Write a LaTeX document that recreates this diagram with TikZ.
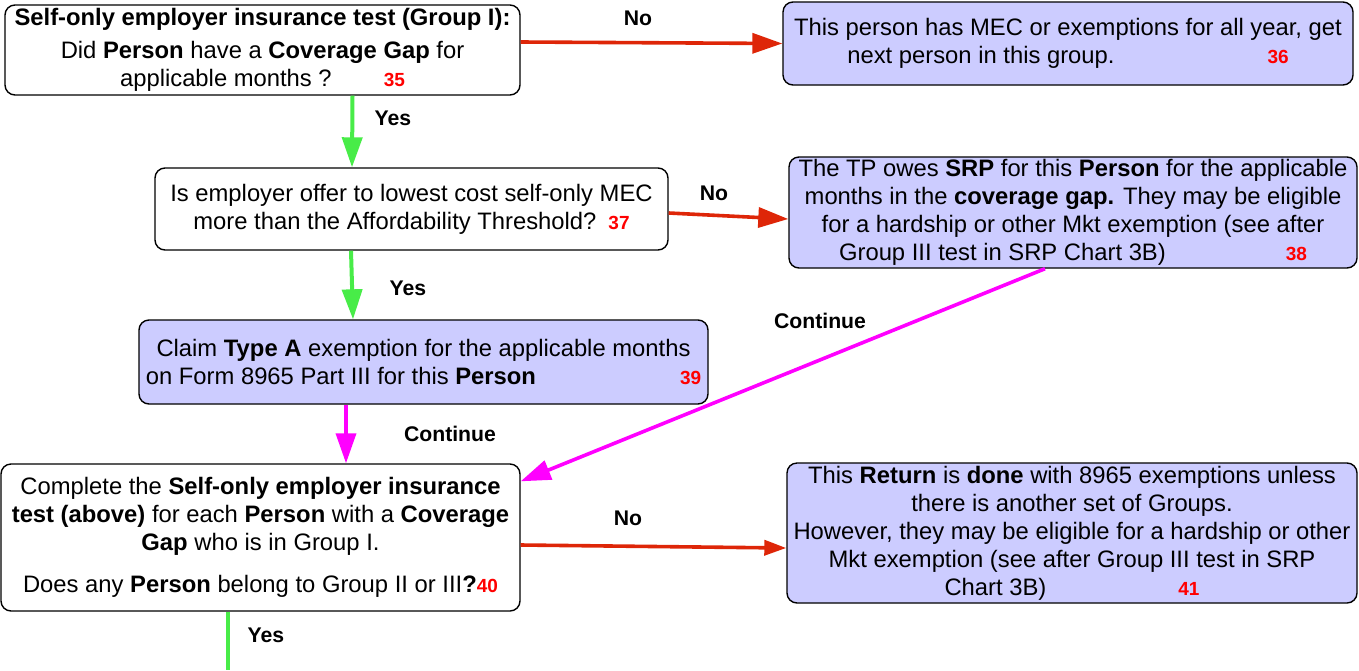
\documentclass[tikz,border=0pt]{standalone}
\usepackage{fontspec}
\setmainfont{Liberation Sans}
\usepackage{tikz}
\usetikzlibrary{arrows.meta}
\definecolor{actfill}{RGB}{204,204,255}
\definecolor{nored}{RGB}{222,38,8}
\definecolor{yesgreen}{RGB}{72,236,72}
\definecolor{contmag}{RGB}{255,0,255}
\definecolor{numred}{RGB}{255,0,0}
\newcommand{\refno}[1]{{\color{numred}\fontsize{9.5}{11}\selectfont\bfseries #1}}
\newcommand{\bodyfont}{\fontsize{11.9}{14}\selectfont}

\begin{document}
\begin{tikzpicture}[x=0.5pt,y=-0.5pt,
  qbox/.style={draw=black,line width=0.7pt,rounded corners=5pt,fill=white,
               align=center,inner sep=0pt,font=\bodyfont},
  abox/.style={qbox,fill=actfill},
  nolink/.style={draw=nored,line width=1.8pt,-{Triangle[length=15pt,width=10pt]}},
  yeslink/.style={draw=yesgreen,line width=2pt,-{Triangle[length=15pt,width=10pt]}},
  contlink/.style={draw=contmag,line width=1.8pt,-{Triangle[length=15pt,width=10pt]}},
  lbl/.style={font=\fontsize{10.6}{12}\selectfont\bfseries,inner sep=0pt}]
  \useasboundingbox (0,0) rectangle (1359,670);

  % ── Boxes ──
  \node[qbox,minimum width=257.5pt,minimum height=45pt] (gap) at (262.5,50)
    {\textbf{Self-only employer insurance test (Group I):}\\[2.5pt]
     Did \textbf{Person} have a \textbf{Coverage Gap} for\\
     applicable months ?\hspace{26pt}\refno{35}};
  \node[abox,minimum width=285pt,minimum height=41.5pt] (allyear) at (1068,43.5)
    {This person has MEC or exemptions for all year, get\\
     next person in this group.\hspace{76.5pt}\refno{36}};
  \node[qbox,minimum width=256.5pt,minimum height=41pt] (afford) at (411.5,209)
    {Is employer offer to lowest cost self-only MEC\\
     more than the Affordability Threshold?\hspace{6pt}\refno{37}};
  \node[abox,minimum width=284pt,minimum height=55.5pt] (owesrp) at (1073,212.5)
    {The TP owes \textbf{SRP} for this \textbf{Person} for the applicable\\
     months in the \textbf{coverage gap.} They may be eligible\\
     for a hardship or other Mkt exemption (see after\\
     Group III test in SRP Chart 3B)\hspace{60pt}\refno{38}};
  \node[abox,minimum width=284.5pt,minimum height=42pt] (typea) at (423.5,362)
    {Claim \textbf{Type A} exemption for the applicable months\\
     on Form 8965 Part III for this \textbf{Person}\hspace{72pt}\refno{39}};
  \node[qbox,minimum width=259.5pt,minimum height=73.5pt] (groupone) at (260.5,537.5)
    {Complete the \textbf{Self-only employer insurance}\\
     \textbf{test (above)} for each \textbf{Person} with a \textbf{Coverage}\\
     \textbf{Gap} who is in Group I.\\[7pt]
     Does any \textbf{Person} belong to Group II or III\textbf{?}\refno{40}};
  \node[abox,minimum width=285pt,minimum height=70pt] (done) at (1072,533)
    {This \textbf{Return} is \textbf{done} with 8965 exemptions unless\\
     there is another set of Groups.\\
     However, they may be eligible for a hardship or other\\
     Mkt exemption (see after Group III test in SRP\\
     Chart 3B)\hspace{66pt}\refno{41}};
  \coordinate (nextgroup) at (228,670);

  % ── Connectors ──
  \draw[nolink] ([yshift=4pt]gap.east) -- (allyear.west);
  \draw[yeslink] ([xshift=45pt]gap.south) -- ([xshift=-29.75pt]afford.north);
  \draw[nolink] ([yshift=-2pt]afford.east) -- ([yshift=-3.25pt]owesrp.west);
  \draw[yeslink] ([xshift=-30.25pt]afford.south) -- ([xshift=-35.25pt]typea.north);
  \draw[contlink] ([xshift=-38.75pt]typea.south) -- ([xshift=42.75pt]groupone.north);
  \draw[contlink] ([xshift=-14pt]owesrp.south) -- ([yshift=-9pt]groupone.north east);
  \draw[nolink,-{Triangle[length=11pt,width=7.5pt]}] ([yshift=-3.75pt]groupone.east) -- ([yshift=-7.5pt]done.west);
  \draw[draw=yesgreen,line width=2pt] ([xshift=-16.25pt]groupone.south) -- (nextgroup);

  % ── Labels ──
  \node[lbl] (no1) at (638,18) {No};
  \node[lbl] (yes1) at (393,118) {Yes};
  \node[lbl] (no2) at (714,193) {No};
  \node[lbl] (yes2) at (408,288) {Yes};
  \node[lbl] (cont1) at (820,321) {Continue};
  \node[lbl] (cont2) at (450,434) {Continue};
  \node[lbl] (no3) at (628,518) {No};
  \node[lbl] (yes3) at (266,635) {Yes};
\end{tikzpicture}
\end{document}
